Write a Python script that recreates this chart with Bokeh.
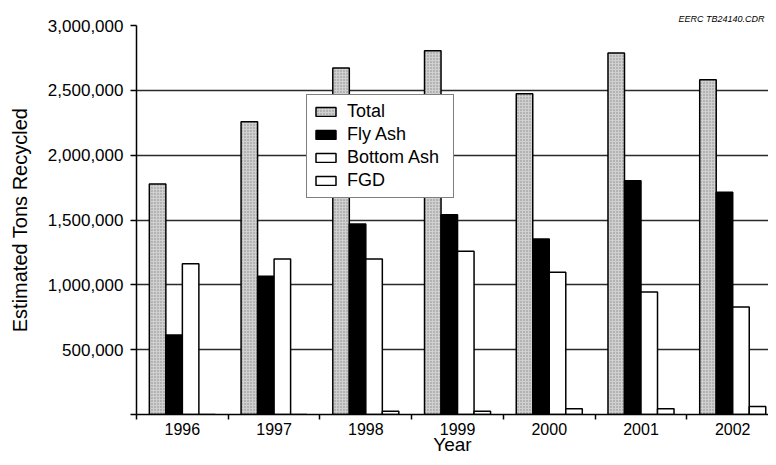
import numpy as np
from bokeh.plotting import figure
from bokeh.models import (Range1d, FixedTicker, NumeralTickFormatter, Legend,
                          LegendItem, Title, ColumnDataSource)
from bokeh.embed import file_html
from bokeh.resources import INLINE

years = ["1996", "1997", "1998", "1999", "2000", "2001", "2002"]
total = [1778000, 2258000, 2672000, 2805000, 2473000, 2787000, 2582000]
fly_ash = [613000, 1067000, 1469000, 1540000, 1354000, 1803000, 1714000]
bottom_ash = [1162000, 1200000, 1200000, 1259000, 1098000, 945000, 830000]
fgd = [0, 0, 25000, 25000, 44000, 44000, 61000]

series_names = ["Total", "Fly Ash", "Bottom Ash", "FGD"]
series_values = [total, fly_ash, bottom_ash, fgd]
y_ticks = [0, 500000, 1000000, 1500000, 2000000, 2500000, 3000000]

FONT = "Liberation Sans"

# the visible window shows the first ~6.9 categories (last one is cropped)
p = figure(width=768, height=457, output_backend="svg", toolbar_location=None,
           x_range=Range1d(0, 6.89), y_range=Range1d(0, 3000000),
           min_border_left=136, min_border_right=0, min_border_top=25,
           min_border_bottom=0)
p.background_fill_color = "white"
p.border_fill_color = "white"
p.outline_line_color = None

note = Title(text="EERC TB24140.CDR", align="right", text_font=FONT,
             text_font_size="9px", text_font_style="italic",
             text_color="black", standoff=3, offset=4)
p.add_layout(note, "above")

offsets = [-0.27, -0.09, 0.09, 0.27]
bar_w = 0.18
styles = [
    dict(fill_color="#d0d0d0", hatch_pattern="dot", hatch_color="#707070",
         hatch_scale=3, hatch_weight=1, hatch_alpha=0.75),
    dict(fill_color="black"),
    dict(fill_color="white"),
    dict(fill_color="white"),
]

p.xgrid.visible = False
p.ygrid.grid_line_color = "#2a2a2a"
p.ygrid.grid_line_width = 1.3
p.ygrid.ticker = FixedTicker(ticks=y_ticks)

idx = np.arange(len(years))
items = []
for name, vals, off, st in zip(series_names, series_values, offsets, styles):
    src = ColumnDataSource(dict(x=idx + 0.5 + off, top=vals, year=years))
    r = p.vbar(x="x", top="top", bottom=0, width=bar_w, source=src,
               line_color="black", line_width=1.5, **st)
    items.append(LegendItem(label=name, renderers=[r]))

legend = Legend(items=items, location=(170, 216))
legend.label_text_font = FONT
legend.label_text_font_size = "18px"
legend.label_text_color = "black"
legend.glyph_width = 25
legend.glyph_height = 11
legend.label_height = 20
legend.label_width = 100
legend.spacing = 2
legend.padding = 6
legend.margin = 0
legend.label_standoff = 9
legend.border_line_color = "black"
legend.border_line_width = 1.5
legend.background_fill_alpha = 1.0
p.add_layout(legend, "center")

# y axis
p.yaxis.ticker = FixedTicker(ticks=y_ticks)
p.yaxis.formatter = NumeralTickFormatter(format="0,0")
p.yaxis.major_label_overrides = {0: ""}
p.yaxis.axis_label = "Estimated Tons Recycled"
p.yaxis.axis_label_text_font = FONT
p.yaxis.axis_label_text_font_size = "20px"
p.yaxis.axis_label_text_font_style = "normal"
p.yaxis.axis_label_text_color = "black"
p.yaxis.axis_label_standoff = 14
p.yaxis.major_label_text_font = FONT
p.yaxis.major_label_text_font_size = "17px"
p.yaxis.major_label_text_color = "black"
p.yaxis.major_label_standoff = 7
p.yaxis.major_tick_in = 0
p.yaxis.major_tick_out = 6
p.yaxis.major_tick_line_width = 1.3
p.yaxis.minor_tick_line_color = None
p.yaxis.axis_line_color = "black"
p.yaxis.axis_line_width = 1.5

# x axis: labels at category centres, ticks at category boundaries
centers = [i + 0.5 for i in range(len(years))]
bounds = list(range(len(years) + 1))
p.xaxis.ticker = FixedTicker(ticks=centers, minor_ticks=bounds)
p.xaxis.major_label_overrides = {c: y for c, y in zip(centers, years)}
p.xaxis.major_tick_line_color = None
p.xaxis.major_tick_in = 0
p.xaxis.major_tick_out = 0
p.xaxis.minor_tick_in = 0
p.xaxis.minor_tick_out = 5
p.xaxis.minor_tick_line_color = "black"
p.xaxis.minor_tick_line_width = 1.5
p.xaxis.major_label_standoff = 3
p.xaxis.major_label_text_font = FONT
p.xaxis.major_label_text_font_size = "16px"
p.xaxis.major_label_text_color = "black"
p.xaxis.axis_label = "Year"
p.xaxis.axis_label_text_font = FONT
p.xaxis.axis_label_text_font_size = "19px"
p.xaxis.axis_label_text_font_style = "normal"
p.xaxis.axis_label_text_color = "black"
p.xaxis.axis_label_standoff = -4
p.xaxis.axis_line_color = "black"
p.xaxis.axis_line_width = 1.5

open("out.html", "w").write(file_html(p, INLINE))
